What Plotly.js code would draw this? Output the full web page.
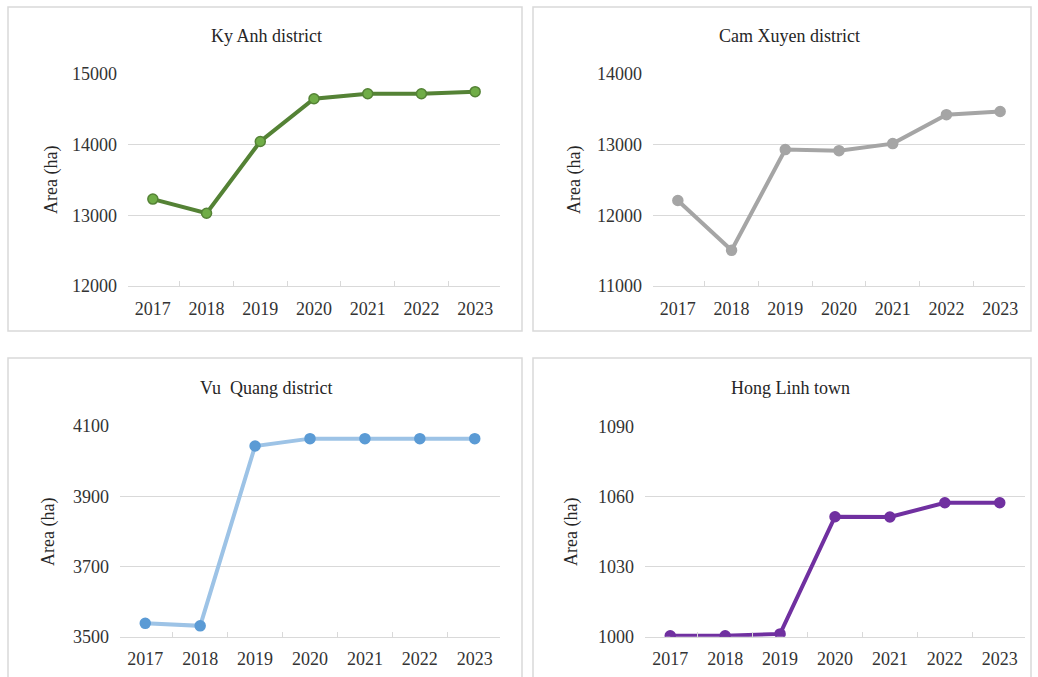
<!DOCTYPE html>
<html>
<head>
<meta charset="utf-8">
<script src="https://cdn.plot.ly/plotly-3.0.1.min.js"></script>
<style>html,body{margin:0;padding:0;background:#fff;}#chart{width:1038px;height:677px;}</style>
</head>
<body>
<div id="chart"></div>
<script>
const years = ["2017","2018","2019","2020","2021","2022","2023"];
const kyAnh = [13230, 13030, 14045, 14650, 14720, 14720, 14750];
const camXuyen = [12210, 11505, 12930, 12915, 13015, 13425, 13470];
const vuQuang = [3538, 3531, 4043, 4064, 4064, 4064, 4064];
const hongLinh = [1000.4, 1000.4, 1001.2, 1051.4, 1051.3, 1057.4, 1057.4];
const panelTitles = ["Ky Anh district", "Cam Xuyen district", "Vu  Quang district", "Hong Linh town"];
const yTicks = [[12000,13000,14000,15000],[11000,12000,13000,14000],[3500,3700,3900,4100],[1000,1030,1060,1090]];

const W = 1038, H = 677;
const FONT = "Liberation Serif";
const px = (a,b) => [a/W, b/W];
const py = (top,bot) => [1-bot/H, 1-top/H];

const panels = [
  {data: kyAnh, line: "#548235", mk: "#70AD47", mkl: "#548235", xd: px(128,500), yd: py(74,286), box:[8,7,522,331], tx:266, ty:36, yt:52, yc:180},
  {data: camXuyen, line: "#A5A5A5", mk: "#A5A5A5", mkl: "#A5A5A5", xd: px(653,1025), yd: py(74,286), box:[533,7,1031,331], tx:789, ty:36, yt:575, yc:180},
  {data: vuQuang, line: "#9DC3E6", mk: "#5B9BD5", mkl: "#5B9BD5", xd: px(120,500), yd: py(426,636.7), box:[8,358,522,690], tx:266, ty:388, yt:48, yc:532},
  {data: hongLinh, line: "#7030A0", mk: "#7030A0", mkl: "#7030A0", xd: px(645,1025), yd: py(426.7,636.7), box:[533,358,1031,690], tx:790, ty:388, yt:571, yc:532}
];

const traces = [];
const layout = {
  width: W, height: H,
  margin: {l:0, r:0, t:0, b:0},
  paper_bgcolor: "#ffffff", plot_bgcolor: "#ffffff",
  showlegend: false,
  font: {family: FONT, color: "#333333", size: 17},
  shapes: [], annotations: []
};

panels.forEach((p, i) => {
  const n = i + 1;
  const xa = n === 1 ? "x" : "x" + n;
  const ya = n === 1 ? "y" : "y" + n;
  traces.push({
    x: years, y: p.data, type: "scatter", mode: "lines+markers",
    xaxis: xa, yaxis: ya,
    line: {color: p.line, width: 4},
    marker: {color: p.mk, size: 10, line: {color: p.mkl, width: 1.5}},
    hoverinfo: "skip"
  });
  const t = yTicks[i];
  layout["xaxis" + (n === 1 ? "" : n)] = {
    domain: p.xd, anchor: ya, type: "category",
    showgrid: false, zeroline: false,
    showline: true, linecolor: "#d9d9d9", linewidth: 1,
    ticks: "inside", ticklen: 5, tickcolor: "#d9d9d9",
    tickson: "boundaries",
    ticklabelstandoff: 6,
    tickfont: {family: FONT, size: 18, color: "#333333"},
    fixedrange: true
  };
  layout["yaxis" + (n === 1 ? "" : n)] = {
    domain: p.yd, anchor: xa,
    range: [t[0], t[3]],
    tickvals: t, ticktext: t.map(String),
    showgrid: true, gridcolor: "#d9d9d9", gridwidth: 1,
    zeroline: false, showline: false, ticks: "",
    ticklabelstandoff: 10,
    tickfont: {family: FONT, size: 18, color: "#333333"},
    fixedrange: true
  };
  layout.shapes.push({type: "rect", xref: "paper", yref: "paper",
    x0: p.box[0]/W, x1: p.box[2]/W, y0: 1-p.box[3]/H, y1: 1-p.box[1]/H,
    line: {color: "#d9d9d9", width: 1.5}, fillcolor: "rgba(0,0,0,0)", layer: "below"});
  layout.annotations.push({xref: "paper", yref: "paper", x: p.tx/W, y: 1-p.ty/H,
    text: panelTitles[i], showarrow: false, xanchor: "center", yanchor: "middle",
    font: {family: FONT, size: 18, color: "#262626"}});
  layout.annotations.push({xref: "paper", yref: "paper", x: p.yt/W, y: 1-p.yc/H,
    text: "Area (ha)", showarrow: false, textangle: -90, xanchor: "center", yanchor: "middle",
    font: {family: FONT, size: 18, color: "#262626"}});
});

Plotly.newPlot("chart", traces, layout, {displayModeBar: false, staticPlot: true});
</script>
</body>
</html>
